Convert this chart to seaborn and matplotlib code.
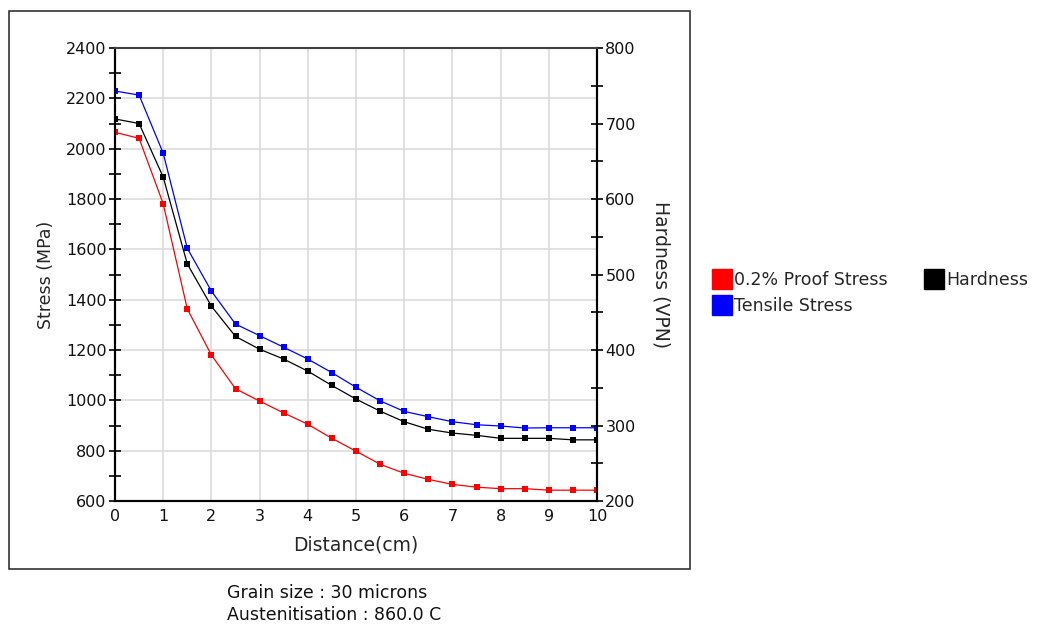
import matplotlib
matplotlib.use("Agg")
import matplotlib.pyplot as plt
import seaborn as sns
import pandas as pd
import numpy as np
from matplotlib.lines import Line2D
from matplotlib.patches import Rectangle
from matplotlib.ticker import MultipleLocator

distance = [0, 0.5, 1, 1.5, 2, 2.5, 3, 3.5, 4, 4.5, 5, 5.5, 6, 6.5, 7, 7.5, 8, 8.5, 9, 9.5, 10]
proof_stress = [2065, 2041, 1781, 1363, 1180, 1046, 997, 950, 905, 849, 798, 746, 710, 686, 666, 655, 649, 649, 643, 643, 643]
tensile_stress = [2229, 2213, 1982, 1604, 1434, 1303, 1257, 1211, 1164, 1110, 1052, 998, 956, 935, 915, 903, 898, 890, 891, 891, 891]
hardness = [706, 700, 629, 514, 458, 418, 401, 388, 372, 353, 335, 319, 305, 295, 290, 287, 283, 283, 283, 281, 281]

series_names = ["0.2% Proof Stress", "Tensile Stress", "Hardness"]
colors = {"0.2% Proof Stress": "#ff0000", "Tensile Stress": "#0000ff", "Hardness": "#000000"}

sns.set_theme(style="white")
plt.rcParams['font.family'] = ['DejaVu Sans']

fig = plt.figure(figsize=(10.55, 6.26), dpi=100)
ax = fig.add_axes([115/1055, 1-501/626, (597-115)/1055, (501-48)/626])
ax2 = ax.twinx()

stress_df = pd.DataFrame({
    "Distance": distance * 2,
    "Stress": proof_stress + tensile_stress,
    "Series": [series_names[0]] * len(distance) + [series_names[1]] * len(distance),
})
hard_df = pd.DataFrame({"Distance": distance, "Hardness": hardness})

sns.lineplot(data=stress_df, x="Distance", y="Stress", hue="Series",
             palette=colors, marker="s", markersize=4.5, markeredgewidth=0,
             linewidth=0.9, ax=ax, legend=False, zorder=3)
sns.lineplot(data=hard_df, x="Distance", y="Hardness", color="#000000",
             marker="s", markersize=4.5, markeredgewidth=0, linewidth=0.9,
             ax=ax2, legend=False, zorder=3)

ax.set_xlim(0, 10)
ax.set_ylim(600, 2400)
ax2.set_ylim(200, 800)

ax.xaxis.set_major_locator(MultipleLocator(1))
ax.xaxis.set_minor_locator(MultipleLocator(0.5))
ax.yaxis.set_major_locator(MultipleLocator(200))
ax.yaxis.set_minor_locator(MultipleLocator(100))
ax2.yaxis.set_major_locator(MultipleLocator(100))
ax2.yaxis.set_minor_locator(MultipleLocator(50))

ax.grid(True, which="major", color="#dcdcdc", linewidth=1.2)
ax.set_axisbelow(True)

for a in (ax, ax2):
    for s in a.spines.values():
        s.set_visible(True)
        s.set_color("black")
        s.set_linewidth(1.5)
ax.spines["top"].set_color("#404040")
ax.spines["top"].set_linewidth(1.2)
ax2.spines["top"].set_color("#404040")

ax.tick_params(axis="both", which="both", direction="inout", color="black", width=1.2,
               labelsize=11.5, labelcolor="#111111", pad=2)
ax.tick_params(axis="both", which="major", length=8)
ax.tick_params(axis="both", which="minor", length=8)
ax.tick_params(axis="y", which="both", right=False)
ax.tick_params(axis="x", which="both", top=False)
ax2.tick_params(axis="y", which="both", direction="inout", color="black", width=1.2,
                length=8, labelsize=11.5, labelcolor="#111111", pad=2)

ax.set_xlabel("Distance(cm)", fontsize=13.5, labelpad=8)
ax.set_ylabel("Stress (MPa)", fontsize=12.5, labelpad=8)
ax2.set_ylabel("Hardness (VPN)", fontsize=13.5, rotation=270, labelpad=25)

handles = [Line2D([0], [0], marker="s", linestyle="none", markersize=14,
                  markerfacecolor=colors[n], markeredgecolor=colors[n]) for n in series_names]
fig.legend(handles, series_names, ncol=2, loc="upper left",
           bbox_to_anchor=(706/1055, 1-264/626), frameon=False, fontsize=12.5,
           handlelength=1.0, handletextpad=0.2, columnspacing=2.2,
           labelspacing=0.45, borderaxespad=0)

fig.add_artist(Rectangle((9/1055, 1-569/626), (690-9)/1055, (569-11)/626,
                         transform=fig.transFigure, fill=False,
                         edgecolor="#333333", linewidth=1.2))

fig.text(227/1055, 1-593/626, "Grain size : 30 microns", fontsize=12.5, va="center", ha="left", color="#111111")
fig.text(227/1055, 1-615/626, "Austenitisation : 860.0 C", fontsize=12.5, va="center", ha="left", color="#111111")

fig.savefig("out.png", dpi=100, facecolor="white")
